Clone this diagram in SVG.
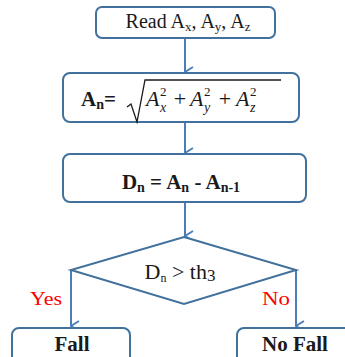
<svg xmlns="http://www.w3.org/2000/svg" width="345" height="357" viewBox="0 0 345 357">
<defs>
<style>
.box{fill:#fff;stroke:#41719C;stroke-width:2}
.conn{fill:none;stroke:#4A7EBB;stroke-width:2}
.t{font-family:"Liberation Serif","Times New Roman",serif;fill:#1a1a1a}
.b{font-weight:bold}
.lbl{font-family:"Liberation Serif","Times New Roman",serif;fill:#FF0000;font-size:18px}
.i{font-style:italic}
</style>
<marker id="arr" viewBox="0 0 12 10" refX="6" refY="9" markerWidth="12" markerHeight="10" markerUnits="userSpaceOnUse" orient="auto-start-reverse">
<path d="M1,1 L6,9 L11,1" fill="none" stroke="#4A7EBB" stroke-width="2"/>
</marker>
</defs>
<rect width="345" height="357" fill="#fff"/>
<g id="connectors">
<line class="conn" x1="185" y1="38" x2="185" y2="72" marker-end="url(#arr)"/>
<line class="conn" x1="185" y1="122" x2="185" y2="153" marker-end="url(#arr)"/>
<line class="conn" x1="185" y1="202" x2="185" y2="236" marker-end="url(#arr)"/>
<line class="conn" x1="71" y1="270" x2="71" y2="326" marker-end="url(#arr)"/>
<line class="conn" x1="296" y1="270" x2="296" y2="326" marker-end="url(#arr)"/>
<text class="lbl" x="46" y="305" text-anchor="middle" textLength="32" lengthAdjust="spacingAndGlyphs">Yes</text>
<text class="lbl" x="276" y="305" text-anchor="middle" textLength="28" lengthAdjust="spacingAndGlyphs">No</text>
</g>
<g id="read">
<rect class="box" x="96" y="7" width="179" height="31" rx="6"/>
<text class="t" x="188" y="28" text-anchor="middle" font-size="20">Read A<tspan font-size="13" dy="3">x</tspan><tspan dy="-3">, A</tspan><tspan font-size="13" dy="3">y</tspan><tspan dy="-3">, A</tspan><tspan font-size="13" dy="3">z</tspan></text>
</g>
<g id="magnitude">
<rect class="box" x="63" y="73" width="236" height="49" rx="7"/>
<text class="t b" x="81" y="106" font-size="21">A<tspan font-size="14" dy="3">n</tspan><tspan dy="-3">=</tspan></text>
<polyline points="127,107 131,104 137,122 145,80 281,80" fill="none" stroke="#1a1a1a" stroke-width="1.3"/>
<g class="t i" font-size="22">
<text x="146" y="106">A</text>
<text x="160" y="96" font-size="13" font-style="normal">2</text>
<text x="160" y="112" font-size="14">x</text>
<text x="180" y="106" text-anchor="middle" font-style="normal">+</text>
<text x="190" y="106">A</text>
<text x="204" y="96" font-size="13" font-style="normal">2</text>
<text x="204" y="112" font-size="14">y</text>
<text x="225" y="106" text-anchor="middle" font-style="normal">+</text>
<text x="236" y="106">A</text>
<text x="250" y="96" font-size="13" font-style="normal">2</text>
<text x="250" y="112" font-size="14">z</text>
</g>
</g>
<g id="difference">
<rect class="box" x="63" y="154" width="243" height="48" rx="7"/>
<text class="t b" x="181" y="189" text-anchor="middle" font-size="21">D<tspan font-size="14" dy="3">n</tspan><tspan dy="-3"> = A</tspan><tspan font-size="14" dy="3">n</tspan><tspan dy="-3"> - A</tspan><tspan font-size="14" dy="3">n-1</tspan></text>
</g>
<g id="decision">
<polygon class="box" points="184,237 296,270 184,304 71,270"/>
<text class="t" x="180" y="279" text-anchor="middle" font-size="22">D<tspan font-size="12" dy="3">n</tspan><tspan dy="-3"> &gt; th</tspan><tspan font-size="17" dy="2">3</tspan></text>
</g>
<g id="fall">
<rect class="box" x="12" y="328" width="118" height="44" rx="7"/>
<text class="t b" x="72" y="351" text-anchor="middle" font-size="21">Fall</text>
</g>
<g id="nofall">
<rect class="box" x="237" y="328" width="130" height="44" rx="7"/>
<text class="t b" x="295" y="351" text-anchor="middle" font-size="21">No Fall</text>
</g>
</svg>
